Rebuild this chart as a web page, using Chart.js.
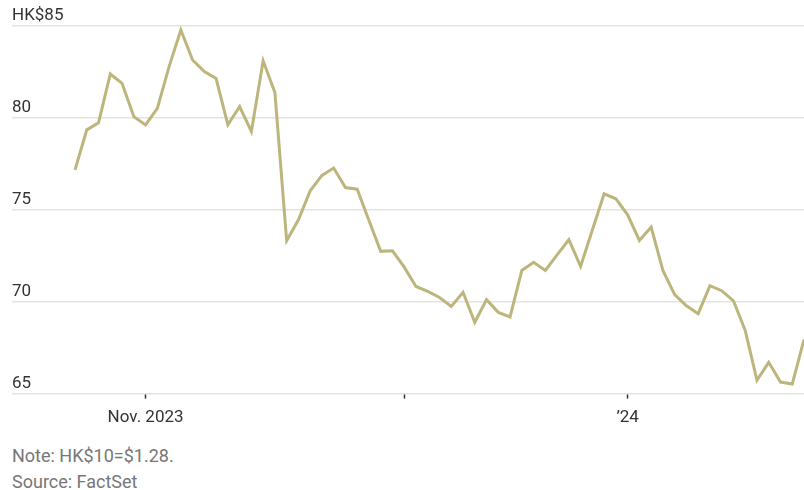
<!DOCTYPE html>
<html>
<head>
<meta charset="utf-8">
<script src="https://cdn.jsdelivr.net/npm/chart.js@4"></script>
<style>
  html, body { margin: 0; padding: 0; background: #fff; }
  #wrap { position: relative; width: 804px; height: 437px; }
  .foot { font-family: 'Liberation Sans Narrow', 'Roboto', sans-serif; font-size: 18px; color: #777; margin-left: 12px; line-height: 26px; }
</style>
</head>
<body>
<div id="wrap"><canvas id="c"></canvas></div>
<div class="foot" style="margin-top:6px">Note: HK$10=$1.28.</div>
<div class="foot">Source: FactSet</div>
<script>
'use strict';
// trading days, Oct 24 2023 - Jan 23 2024
const dates = [
  '2023-10-24','2023-10-25','2023-10-26','2023-10-27','2023-10-30','2023-10-31',
  '2023-11-01','2023-11-02','2023-11-03','2023-11-06','2023-11-07','2023-11-08','2023-11-09','2023-11-10',
  '2023-11-13','2023-11-14','2023-11-15','2023-11-16','2023-11-17','2023-11-20','2023-11-21','2023-11-22',
  '2023-11-23','2023-11-24','2023-11-27','2023-11-28','2023-11-29','2023-11-30',
  '2023-12-01','2023-12-04','2023-12-05','2023-12-06','2023-12-07','2023-12-08','2023-12-11','2023-12-12',
  '2023-12-13','2023-12-14','2023-12-15','2023-12-18','2023-12-19','2023-12-20','2023-12-21','2023-12-22',
  '2023-12-27','2023-12-28','2023-12-29',
  '2024-01-02','2024-01-03','2024-01-04','2024-01-05','2024-01-08','2024-01-09','2024-01-10','2024-01-11',
  '2024-01-12','2024-01-15','2024-01-16','2024-01-17','2024-01-18','2024-01-19','2024-01-22','2024-01-23'
];
const prices = [
  77.17, 79.35, 79.74, 82.39, 81.88, 80.07,
  79.62, 80.52, 82.79, 84.78, 83.15, 82.52, 82.14, 79.62,
  80.62, 79.26, 83.11, 81.38, 73.32, 74.46, 76.03, 76.87,
  77.27, 76.21, 76.12, 74.42, 72.74, 72.77,
  71.88, 70.83, 70.56, 70.23, 69.74, 70.51, 68.88, 70.11,
  69.42, 69.17, 71.70, 72.14, 71.70, 72.55, 73.37, 71.92,
  73.90, 75.87, 75.60,
  74.73, 73.33, 74.06, 71.70, 70.38, 69.78, 69.35, 70.87,
  70.60, 70.05, 68.44, 65.72, 66.70, 65.63, 65.52, 67.93
];
const tickDates = ['2023-11-01', '2023-12-01', '2024-01-02'];
const tickLabels = ['Nov. 2023', '', '\u201924'];
const yTicks = [65, 70, 75, 80, 85];

const font = { family: "'Liberation Sans Narrow', 'Roboto', sans-serif", size: 17 };
// leave room on the left so the gridlines run under the y labels
const xMin = -5.36;

new Chart(document.getElementById('c'), {
  type: 'line',
  data: {
    datasets: [{
      data: prices.map((v, i) => ({ x: i, y: v })),
      borderColor: '#bcb67c',
      borderWidth: 3,
      pointRadius: 0,
      tension: 0
    }]
  },
  options: {
    responsive: true,
    maintainAspectRatio: false,
    animation: false,
    layout: { padding: { left: 12, right: 0, top: 26, bottom: 0 } },
    plugins: { legend: { display: false }, tooltip: { enabled: false } },
    scales: {
      x: {
        type: 'linear',
        min: xMin,
        max: dates.length - 1,
        afterBuildTicks: s => { s.ticks = tickDates.map(d => ({ value: dates.indexOf(d) })); },
        grid: { drawOnChartArea: false, drawTicks: true, tickLength: 5, tickColor: '#333', tickWidth: 1.5 },
        border: { display: false },
        ticks: {
          font: font, color: '#333', padding: 9, maxRotation: 0, autoSkip: false,
          callback: v => tickLabels[tickDates.indexOf(dates[v])]
        }
      },
      y: {
        min: 65,
        max: 85,
        afterBuildTicks: s => { s.ticks = yTicks.map(v => ({ value: v })); },
        grid: { color: '#e3e3e3', lineWidth: 1.5, drawTicks: false },
        border: { display: false },
        ticks: {
          mirror: true, padding: 0, labelOffset: -10,
          font: font, color: '#333',
          callback: v => v === 85 ? 'HK$' + v : String(v)
        }
      }
    }
  }
});
</script>
</body>
</html>
